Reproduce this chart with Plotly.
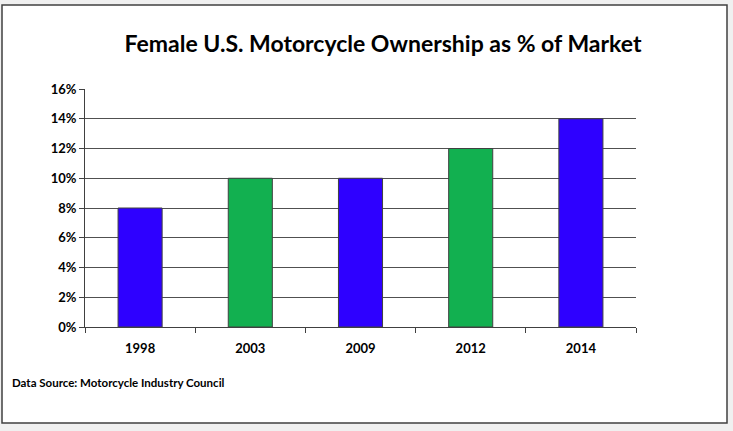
import plotly.graph_objects as go

years = ["1998", "2003", "2009", "2012", "2014"]
share = [0.08, 0.10, 0.10, 0.12, 0.14]
colors = ["#2E00FF", "#12B050", "#2E00FF", "#12B050", "#2E00FF"]

fig = go.Figure()
fig.add_trace(go.Bar(
    x=years, y=share, width=0.4,
    marker=dict(color=colors, line=dict(color="#404040", width=1)),
    showlegend=False,
))

fnt = "Lato, Carlito, Calibri, sans-serif"
W, H = 733, 431
L, R, T, B = 85, 97, 89, 104
pw, ph = W - L - R, H - T - B

fig.update_layout(
    width=W, height=H,
    margin=dict(l=L, r=R, t=T, b=B),
    paper_bgcolor="#f0f0f0",
    plot_bgcolor="white",
    title=dict(text="Female U.S. Motorcycle Ownership as % of Market",
               xref="paper", x=(383 - L) / pw, xanchor="center",
               y=1 - 44 / H, yanchor="middle",
               font=dict(family=fnt, size=23, color="black", weight="bold")),
    font=dict(family=fnt, color="black"),
)
fig.update_yaxes(range=[0, 0.16], dtick=0.02, tickformat=".0%",
                 showgrid=True, gridcolor="#505050", gridwidth=1,
                 showline=True, linecolor="#404040", linewidth=1,
                 ticks="outside", ticklen=5, tickcolor="#404040",
                 tickfont=dict(family=fnt, size=13, weight="bold"),
                 zeroline=False)
fig.update_xaxes(showline=True, linecolor="#404040", linewidth=1,
                 ticks="outside", ticklen=5, tickcolor="#404040",
                 tickson="boundaries", ticklabelstandoff=9,
                 tickfont=dict(family=fnt, size=13, weight="bold"))

fig.add_shape(type="rect", xref="paper", yref="paper",
              x0=(2 - L) / pw, x1=(727 - L) / pw,
              y0=-(423 - (H - B)) / ph, y1=1 + (T - 5) / ph,
              line=dict(color="#404040", width=1.5), fillcolor="white",
              layer="below")
fig.add_annotation(text="Data Source: Motorcycle Industry Council",
                   xref="paper", yref="paper", x=(10 - L) / pw,
                   y=-(382 - (H - B)) / ph,
                   xanchor="left", yanchor="middle", showarrow=False,
                   font=dict(family=fnt, size=11.5, weight="bold", color="black"))

fig.write_html("out.html", config={"displayModeBar": False},
               post_script="document.body.style.margin='0';")
